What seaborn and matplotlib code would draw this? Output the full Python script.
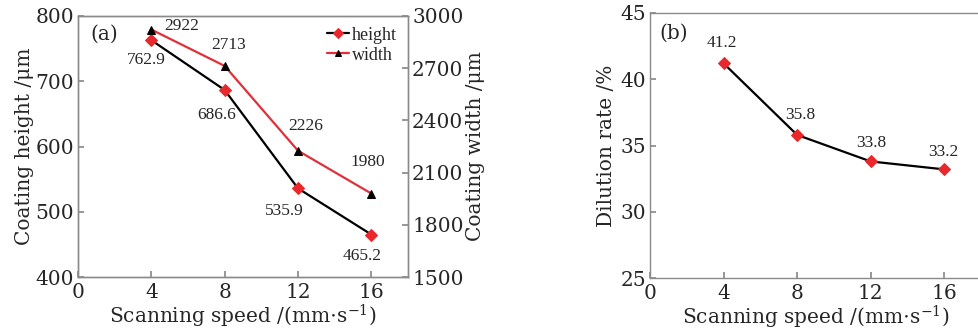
import matplotlib
matplotlib.use("Agg")
import matplotlib.pyplot as plt
import seaborn as sns
import pandas as pd

speed = [4, 8, 12, 16]
height = [762.9, 686.6, 535.9, 465.2]
width = [2922, 2713, 2226, 1980]
dilution = [41.2, 35.8, 33.8, 33.2]

sns.set_theme(style="ticks")
plt.rcParams["font.family"] = ["DejaVu Serif"]
plt.rcParams["mathtext.fontset"] = "dejavuserif"

FS = 14.5
AFS = 12.5
SPINE = "#8a8a8a"
ANN_FONT = ["Liberation Serif", "DejaVu Serif"]

fig = plt.figure(figsize=(9.79, 3.33), dpi=100)
ax1 = fig.add_axes([0.0797, 0.168, 0.337, 0.784])
ax2 = fig.add_axes([0.664, 0.165, 0.338, 0.796])
ax1r = ax1.twinx()

df = pd.DataFrame({"speed": speed, "height": height, "width": width, "dilution": dilution})

sns.lineplot(data=df, x="speed", y="height", ax=ax1, color="black", lw=1.6,
             marker="D", markersize=6, markerfacecolor="#e8282b", markeredgecolor="#e8282b",
             label="height", legend=False)
sns.lineplot(data=df, x="speed", y="width", ax=ax1r, color="#e0303a", lw=1.6,
             marker="^", markersize=6, markerfacecolor="black", markeredgecolor="black",
             label="width", legend=False)
sns.lineplot(data=df, x="speed", y="dilution", ax=ax2, color="black", lw=1.6,
             marker="D", markersize=6, markerfacecolor="#e8282b", markeredgecolor="#e8282b",
             legend=False)

for ax in (ax1, ax2):
    ax.set_xlim(0, 18)
    ax.set_xticks([0, 4, 8, 12, 16])
    ax.set_xlabel("Scanning speed /(mm$\\cdot$s$^{-1}$)", fontsize=FS, labelpad=0.5)

ax1.set_ylim(400, 800)
ax1.set_yticks([400, 500, 600, 700, 800])
ax1.set_ylabel("Coating height /\u03bcm", fontsize=FS, labelpad=1)
ax1r.set_ylim(1500, 3000)
ax1r.set_yticks([1500, 1800, 2100, 2400, 2700, 3000])
ax1r.set_ylabel("Coating width /\u03bcm", fontsize=FS, labelpad=2)

ax2.set_ylim(25, 45)
ax2.set_yticks([25, 30, 35, 40, 45])
ax2.set_ylabel("Dilution rate /%", fontsize=FS, labelpad=3)

for ax in (ax1, ax1r, ax2):
    for s in ax.spines.values():
        s.set_color(SPINE)
        s.set_linewidth(1.0)
    ax.tick_params(direction="in", color=SPINE, labelsize=FS, length=4, pad=3)
    ax.tick_params(axis="x", pad=4)
ax1.tick_params(axis="y", right=False)

# annotations
h_off = [(-5, -20), (-8, -25), (-14, -23), (-9, -21)]
w_off = [(30, 4), (4, 21), (8, 25), (-4, 32)]
d_off = [(-2, 20), (3, 20), (1, 18), (-1, 17)]
for x, v, o in zip(speed, height, h_off):
    ax1.annotate(f"{v:.1f}", (x, v), xytext=o, textcoords="offset pixels",
                 ha="center", va="center", fontsize=AFS, family=ANN_FONT)
for x, v, o in zip(speed, width, w_off):
    ax1r.annotate(f"{v}", (x, v), xytext=o, textcoords="offset pixels",
                  ha="center", va="center", fontsize=AFS, family=ANN_FONT)
for x, v, o in zip(speed, dilution, d_off):
    ax2.annotate(f"{v:.1f}", (x, v), xytext=o, textcoords="offset pixels",
                 ha="center", va="center", fontsize=AFS, family=ANN_FONT)

ax1.text(0.08, 0.93, "(a)", transform=ax1.transAxes, ha="center", va="center", fontsize=FS)
ax2.text(0.07, 0.925, "(b)", transform=ax2.transAxes, ha="center", va="center", fontsize=FS)

h1 = ax1.get_lines()[0]
h2 = ax1r.get_lines()[0]
ax1r.legend([h1, h2], ["height", "width"], loc="upper right", frameon=False,
            prop={"family": ANN_FONT, "size": 13}, handlelength=1.2, handletextpad=0.2,
            labelspacing=0.15, borderaxespad=0.2, markerscale=0.8)

fig.savefig("out.png", dpi=100)
